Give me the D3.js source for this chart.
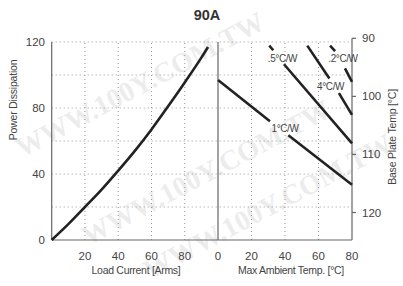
<!DOCTYPE html>
<html>
<head>
<meta charset="utf-8">
<script src="https://cdn.jsdelivr.net/npm/d3@7"></script>
<style>
  body { margin: 0; background: #fff; }
  svg text { font-family: "Liberation Sans", Arial, sans-serif; fill: #444; }
</style>
</head>
<body>
<div id="chart"></div>
<script>
// left panel: power dissipation vs load current
var load_current = [0, 10, 20, 30, 40, 50, 60, 70, 80, 90, 94];
var power_diss   = [0, 9.6, 20, 30.5, 42, 54, 67, 81, 95.5, 110.5, 117];

// right panel: derating lines, each as segments of [ambient, power]
var derate_names = ['1°C/W', '.5°C/W', '4°C/W', '.2°C/W'];
var derate_segments = [
	[[[0, 97], [31, 72]], [[42, 63.5], [80, 33.5]]],
	[[[30.6, 117.8], [33, 115]], [[39.4, 106.5], [80, 58.6]]],
	[[[53.3, 117.8], [66.5, 97.9]], [[72.2, 89], [80, 75.8]]],
	[[[66.9, 117.8], [69.9, 114.5]], [[75.8, 104], [80, 95.8]]]
];
var derate_label_pos = [[40, 67.3], [38.5, 110.3], [67.2, 92.9], [74.6, 110.3]];

var power_ticks = [0, 40, 80, 120];
var power_grid = [20, 40, 60, 80, 100, 120];
var current_ticks = [20, 40, 60, 80];
var ambient_ticks = [0, 20, 40, 60, 80];
var baseplate_ticks = [90, 100, 110, 120];

var width = 403, height = 286;

var svg = d3.select('#chart').append('svg')
	.attr('width', width).attr('height', height);

var xLeft = d3.scaleLinear().domain([0, 100]).range([51.7, 218]);
var xRight = d3.scaleLinear().domain([0, 80]).range([218, 352]);
var y = d3.scaleLinear().domain([0, 120]).range([240, 42]);
var yBase = d3.scaleLinear().domain([90, 120]).range([38.3, 212.5]);

// faint watermark, kept inside the frame
var wm = svg.append('g').attr('opacity', 0.07);
[[22, 158], [88, 246], [150, 280]].forEach(function(p) {
	wm.append('text')
		.attr('transform', 'translate(' + p[0] + ',' + p[1] + ') rotate(-28)')
		.style('font-family', '"Liberation Serif", serif')
		.style('font-weight', 'bold').style('font-size', '28px').style('fill', '#000')
		.text('WWW.100Y.COM.TW');
});

// grid
var grid = svg.append('g')
	.attr('stroke', '#999').attr('stroke-width', 1).attr('stroke-dasharray', '1,3');
grid.selectAll('.hg').data(power_grid).enter().append('line')
	.attr('x1', xLeft(0)).attr('x2', xRight(80))
	.attr('y1', d => y(d)).attr('y2', d => y(d));
grid.selectAll('.vl').data(current_ticks).enter().append('line')
	.attr('x1', d => xLeft(d)).attr('x2', d => xLeft(d))
	.attr('y1', y(0)).attr('y2', y(120));
grid.selectAll('.vr').data(ambient_ticks.slice(1, 4)).enter().append('line')
	.attr('x1', d => xRight(d)).attr('x2', d => xRight(d))
	.attr('y1', y(0)).attr('y2', y(120));

// frame
var frame = svg.append('g').attr('stroke', '#666').attr('stroke-width', 1.2);
frame.append('line').attr('x1', xLeft(0)).attr('x2', xLeft(0)).attr('y1', y(0)).attr('y2', y(120));
frame.append('line').attr('x1', xLeft(0)).attr('x2', xRight(80)).attr('y1', y(0)).attr('y2', y(0));
frame.append('line').attr('x1', xRight(0)).attr('x2', xRight(0)).attr('y1', y(0)).attr('y2', y(120));
frame.append('line').attr('x1', xRight(80)).attr('x2', xRight(80)).attr('y1', y(0)).attr('y2', yBase(90));
frame.selectAll('.bt').data(baseplate_ticks).enter().append('line')
	.attr('x1', xRight(80)).attr('x2', xRight(80) + 4)
	.attr('y1', d => yBase(d)).attr('y2', d => yBase(d));

// tick labels
svg.selectAll('.pl').data(power_ticks).enter().append('text')
	.attr('x', 45).attr('y', d => y(d)).attr('dy', '0.35em')
	.attr('text-anchor', 'end').style('font-size', '11.5px').text(d => d);
svg.selectAll('.cl').data(current_ticks).enter().append('text')
	.attr('x', d => xLeft(d)).attr('y', 256).attr('dy', '0.35em')
	.attr('text-anchor', 'middle').style('font-size', '11.5px').text(d => d);
svg.selectAll('.al').data(ambient_ticks).enter().append('text')
	.attr('x', d => xRight(d)).attr('y', 256).attr('dy', '0.35em')
	.attr('text-anchor', 'middle').style('font-size', '11.5px').text(d => d);
svg.selectAll('.bl').data(baseplate_ticks).enter().append('text')
	.attr('x', xRight(80) + 10).attr('y', d => yBase(d)).attr('dy', '0.35em')
	.attr('text-anchor', 'start').style('font-size', '11.5px').text(d => d);

// titles
svg.append('text').attr('x', 207).attr('y', 20).attr('text-anchor', 'middle')
	.style('font-size', '14.5px').style('font-weight', 'bold').style('fill', '#333').text('90A');
svg.append('text').attr('x', 136).attr('y', 274).attr('text-anchor', 'middle')
	.style('font-size', '10.5px').style('letter-spacing', '-0.3px').text('Load Current  [Arms]');
svg.append('text').attr('x', 291).attr('y', 274).attr('text-anchor', 'middle')
	.style('font-size', '10.5px').style('letter-spacing', '-0.3px').text('Max Ambient Temp. [°C]');
svg.append('text').attr('transform', 'translate(17,100) rotate(-90)').attr('text-anchor', 'middle')
	.style('font-size', '10.5px').style('letter-spacing', '-0.2px').text('Power Dissipation');
svg.append('text').attr('transform', 'translate(396,137) rotate(-90)').attr('text-anchor', 'middle')
	.style('font-size', '10.5px').style('letter-spacing', '-0.2px').text('Base Plate Temp [°C]');

// power curve
var curve = load_current.map((d, i) => [d, power_diss[i]]);
svg.append('path').datum(curve)
	.attr('fill', 'none').attr('stroke', '#222').attr('stroke-width', 2.6)
	.attr('d', d3.line().x(d => xLeft(d[0])).y(d => y(d[1])).curve(d3.curveMonotoneX));

// derating lines
var segLine = d3.line().x(d => xRight(d[0])).y(d => y(d[1]));
derate_segments.forEach(function(segs, i) {
	svg.selectAll(null).data(segs).enter().append('path')
		.attr('fill', 'none').attr('stroke', '#222').attr('stroke-width', 2.6)
		.attr('d', segLine);
	svg.append('text')
		.attr('x', xRight(derate_label_pos[i][0])).attr('y', y(derate_label_pos[i][1])).attr('dy', '0.35em')
		.attr('text-anchor', 'middle').style('font-size', '10px').style('letter-spacing', '-0.4px')
		.text(derate_names[i]);
});
</script>
</body>
</html>
